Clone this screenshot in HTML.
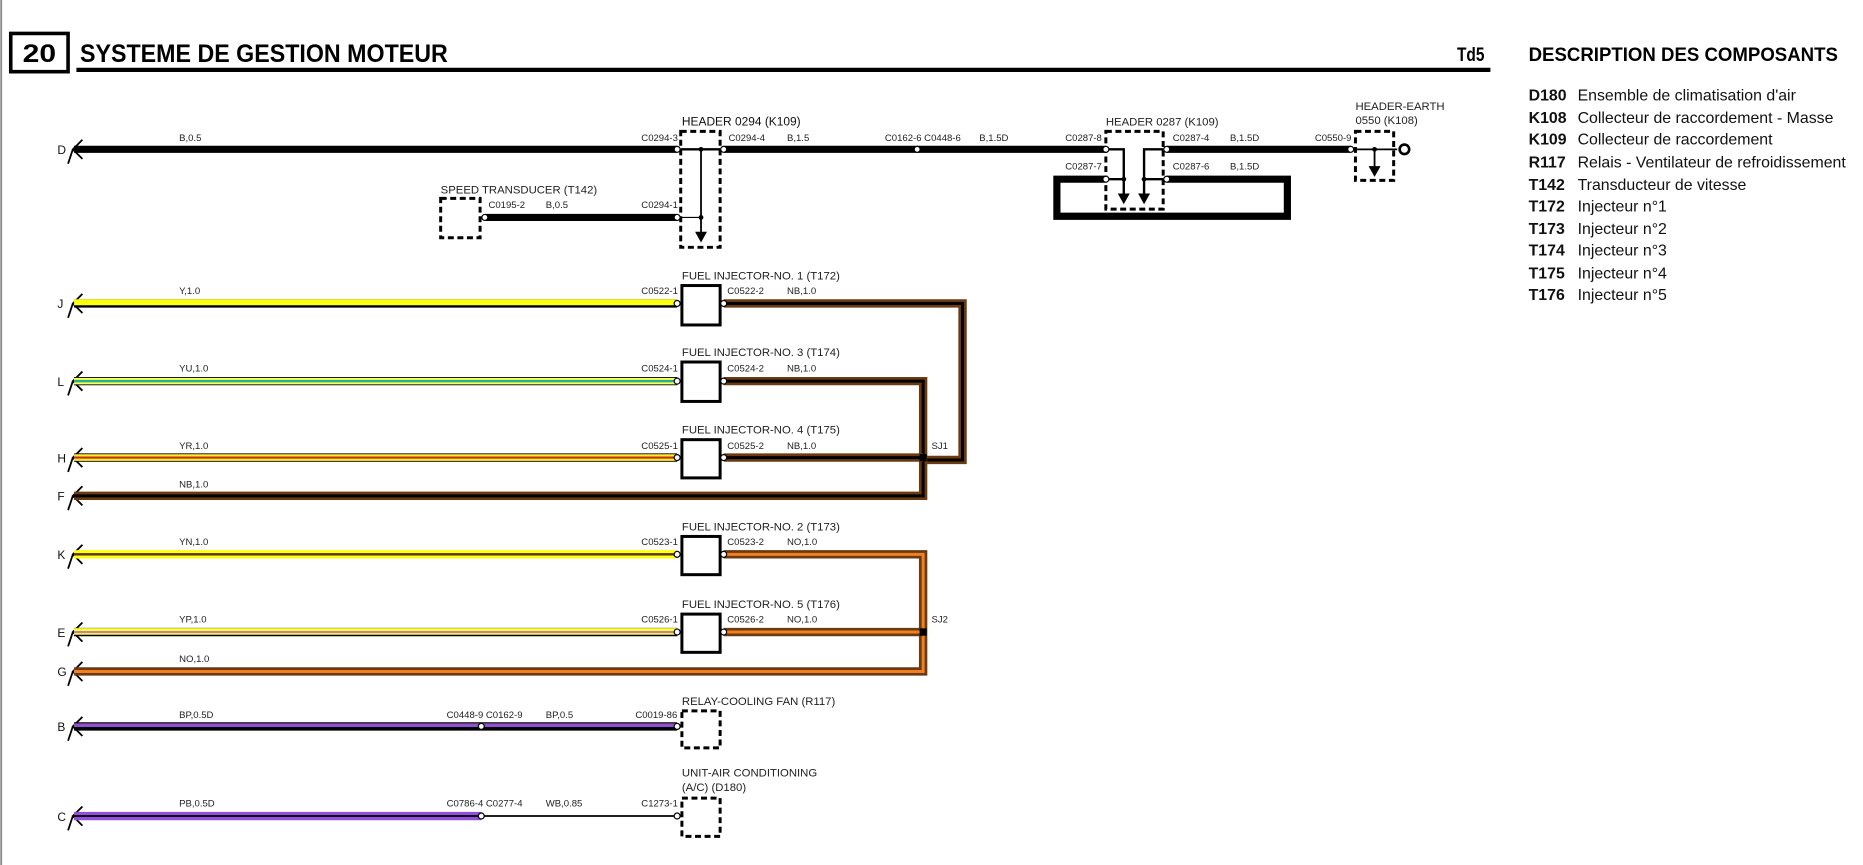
<!DOCTYPE html>
<html><head><meta charset="utf-8"><style>
html,body{margin:0;padding:0;background:#fff;width:1863px;height:865px;overflow:hidden}
svg{display:block}
text{font-family:"Liberation Sans",sans-serif}
.s{font-size:8px;fill:#222}
.m{font-size:10px;fill:#111}
.lg{font-size:13.3px;fill:#111}
.b{font-weight:bold}
</style></head><body>
<svg width="1863" height="865" viewBox="0 0 1560 724" preserveAspectRatio="none" xmlns="http://www.w3.org/2000/svg">
<line x1="1" y1="0" x2="1" y2="724" stroke="#888" stroke-width="1.5"/>
<rect x="9" y="28" width="48" height="32" fill="none" stroke="#000" stroke-width="3"/>
<text x="33" y="52" text-anchor="middle" class="b" font-size="21" textLength="28" lengthAdjust="spacingAndGlyphs">20</text>
<text x="67" y="52" class="b" font-size="21" textLength="308" lengthAdjust="spacingAndGlyphs">SYSTEME DE GESTION MOTEUR</text>
<line x1="64" y1="58.5" x2="1248" y2="58.5" stroke="#000" stroke-width="3.5"/>
<text x="1220" y="51" class="b" font-size="16" textLength="23" lengthAdjust="spacingAndGlyphs">Td5</text>
<text x="1280" y="51" class="b" font-size="16" textLength="259" lengthAdjust="spacingAndGlyphs">DESCRIPTION DES COMPOSANTS</text>
<g class="lg">
<text x="1280" y="84"><tspan class="b">D180</tspan><tspan x="1321">Ensemble de climatisation d'air</tspan></text>
<text x="1280" y="103"><tspan class="b">K108</tspan><tspan x="1321">Collecteur de raccordement - Masse</tspan></text>
<text x="1280" y="121"><tspan class="b">K109</tspan><tspan x="1321">Collecteur de raccordement</tspan></text>
<text x="1280" y="140"><tspan class="b">R117</tspan><tspan x="1321">Relais - Ventilateur de refroidissement</tspan></text>
<text x="1280" y="159"><tspan class="b">T142</tspan><tspan x="1321">Transducteur de vitesse</tspan></text>
<text x="1280" y="177"><tspan class="b">T172</tspan><tspan x="1321">Injecteur n°1</tspan></text>
<text x="1280" y="196"><tspan class="b">T173</tspan><tspan x="1321">Injecteur n°2</tspan></text>
<text x="1280" y="214"><tspan class="b">T174</tspan><tspan x="1321">Injecteur n°3</tspan></text>
<text x="1280" y="233"><tspan class="b">T175</tspan><tspan x="1321">Injecteur n°4</tspan></text>
<text x="1280" y="251"><tspan class="b">T176</tspan><tspan x="1321">Injecteur n°5</tspan></text>
</g>

<g fill="none" stroke="#000" stroke-width="1.5">
<path d="M69 117 L61 125 L69 133 M61 125 L57 137"/>
<path d="M69 246 L61 254 L69 262 M61 254 L57 266"/>
<path d="M69 311 L61 319 L69 327 M61 319 L57 331"/>
<path d="M69 375 L61 383 L69 391 M61 383 L57 395"/>
<path d="M69 407 L61 415 L69 423 M61 415 L57 427"/>
<path d="M69 456 L61 464 L69 472 M61 464 L57 476"/>
<path d="M69 521 L61 529 L69 537 M61 529 L57 541"/>
<path d="M69 554 L61 562 L69 570 M61 562 L57 574"/>
<path d="M69 600 L61 608 L69 616 M61 608 L57 620"/>
<path d="M69 675 L61 683 L69 691 M61 683 L57 695"/>
</g>
<g class="m">
<text x="48" y="129">D</text><text x="48" y="258">J</text><text x="48" y="323">L</text>
<text x="48" y="387">H</text><text x="48" y="419">F</text><text x="48" y="468">K</text>
<text x="48" y="533">E</text><text x="48" y="566">G</text><text x="48" y="612">B</text>
<text x="48" y="687">C</text>
</g>

<g stroke="#000" fill="none">
<line x1="62" y1="125" x2="567" y2="125" stroke-width="6"/>
<line x1="606" y1="125" x2="926" y2="125" stroke-width="6"/>
<line x1="977" y1="125" x2="1131" y2="125" stroke-width="6"/>
<line x1="406" y1="182" x2="567" y2="182" stroke-width="6"/>
<rect x="570" y="110" width="33" height="97" stroke-width="2.5" stroke-dasharray="5,3"/>
<line x1="570" y1="125" x2="603" y2="125" stroke-width="2"/>
<line x1="570" y1="182" x2="587" y2="182" stroke-width="1"/>
<line x1="587" y1="125" x2="587" y2="195" stroke-width="1.5"/>
<rect x="369" y="166" width="33" height="33" stroke-width="2.5" stroke-dasharray="5,3"/>
<rect x="926" y="110" width="48" height="65" stroke-width="2.5" stroke-dasharray="5,3"/>
<path d="M926 125 H941 V163 M974 125 H958 V163 M926 150 H941 M974 150 H958" stroke-width="2"/>
<path d="M926 150 H885 V181 H1078 V150 H977" stroke-width="6"/>
<rect x="1135" y="110" width="32" height="41" stroke-width="2.5" stroke-dasharray="5,3"/>
<path d="M1135 125 H1170 M1151 125 V140" stroke-width="1.5"/>
<circle cx="1176" cy="125" r="4" stroke-width="2.2" fill="#fff"/>
</g>
<g fill="#000">
<circle cx="587" cy="125" r="2"/><circle cx="587" cy="182" r="2"/>
<path d="M582 194 L592 194 L587 203 Z"/>
<circle cx="941" cy="150" r="2"/><circle cx="958" cy="150" r="2"/>
<path d="M936 162 L946 162 L941 171 Z"/><path d="M953 162 L963 162 L958 171 Z"/>
<circle cx="1151" cy="125" r="2"/><path d="M1146 139 L1156 139 L1151 148 Z"/>
</g>
<g class="s">
<text x="150" y="118">B,0.5</text>
<text x="537" y="118">C0294-3</text>
<text x="571" y="105" class="m" font-size="9.5">HEADER 0294 (K109)</text>
<text x="610" y="118">C0294-4</text><text x="659" y="118">B,1.5</text>
<text x="741" y="118">C0162-6 C0448-6</text><text x="820" y="118">B,1.5D</text>
<text x="926" y="105" font-size="9.5">HEADER 0287 (K109)</text>
<text x="892" y="118">C0287-8</text><text x="892" y="142">C0287-7</text>
<text x="982" y="118">C0287-4</text><text x="1030" y="118">B,1.5D</text>
<text x="982" y="142">C0287-6</text><text x="1030" y="142">B,1.5D</text>
<text x="1101" y="118">C0550-9</text>
<text x="1135" y="92" font-size="9.5">HEADER-EARTH</text>
<text x="1135" y="104" font-size="9.5">0550 (K108)</text>
<text x="369" y="162" font-size="9.5">SPEED TRANSDUCER (T142)</text>
<text x="409" y="174">C0195-2</text><text x="457" y="174">B,0.5</text>
<text x="537" y="174">C0294-1</text>
</g>

<g fill="none">
<path d="M606 254 H806 V385 H772" stroke="#6b3a10" stroke-width="7"/>
<path d="M606 254 H806 V385 H772" stroke="#000" stroke-width="2.5"/>
<path d="M606 319 H773 V415 H62" stroke="#6b3a10" stroke-width="7"/>
<path d="M606 319 H773 V415 H62" stroke="#000" stroke-width="2.5"/>
<path d="M606 383 H773" stroke="#6b3a10" stroke-width="7"/>
<path d="M606 383 H773" stroke="#000" stroke-width="2.5"/>
<path d="M606 464 H773 V562 H62" stroke="#6b3a10" stroke-width="7"/>
<path d="M606 464 H773 V562 H62" stroke="#f08020" stroke-width="2.5"/>
<path d="M606 529 H773" stroke="#6b3a10" stroke-width="7"/>
<path d="M606 529 H773" stroke="#f08020" stroke-width="2.5"/>
</g>
<rect x="770" y="380" width="6" height="6" fill="#000"/>
<rect x="770" y="526" width="6" height="6" fill="#000"/>
<text x="780" y="376" class="s" font-size="9">SJ1</text>
<text x="780" y="521" class="s" font-size="9">SJ2</text>

<g fill="none">
<line x1="62" y1="254" x2="567" y2="254" stroke="#000" stroke-width="7"/>
<line x1="62" y1="253" x2="567" y2="253" stroke="#ffff10" stroke-width="5"/>
<line x1="62" y1="319" x2="567" y2="319" stroke="#000" stroke-width="7"/>
<line x1="62" y1="319" x2="567" y2="319" stroke="#ffff50" stroke-width="5.5"/>
<line x1="62" y1="319" x2="567" y2="319" stroke="#20b0a0" stroke-width="2"/>
<line x1="62" y1="383" x2="567" y2="383" stroke="#000" stroke-width="7"/>
<line x1="62" y1="383" x2="567" y2="383" stroke="#ffee30" stroke-width="5.5"/>
<line x1="62" y1="383" x2="567" y2="383" stroke="#c03010" stroke-width="1.8"/>
<line x1="62" y1="464" x2="567" y2="464" stroke="#ffff10" stroke-width="7"/>
<line x1="62" y1="464" x2="567" y2="464" stroke="#5a3008" stroke-width="2"/>
<line x1="62" y1="529" x2="567" y2="529" stroke="#000" stroke-width="7"/>
<line x1="62" y1="528.5" x2="567" y2="528.5" stroke="#ffff30" stroke-width="5.5"/>
<line x1="62" y1="529" x2="567" y2="529" stroke="#c080c0" stroke-width="1.8"/>
<line x1="62" y1="608" x2="567" y2="608" stroke="#000" stroke-width="7"/>
<line x1="62" y1="607" x2="567" y2="607" stroke="#9050d0" stroke-width="3"/>
<line x1="62" y1="683" x2="403" y2="683" stroke="#9050d8" stroke-width="7"/>
<line x1="62" y1="683" x2="403" y2="683" stroke="#000" stroke-width="1.5"/>
<line x1="403" y1="683" x2="567" y2="683" stroke="#000" stroke-width="1.5"/>
</g>

<g fill="#fff" stroke="#000" stroke-width="2.5">
<rect x="571" y="239" width="32" height="33"/>
<rect x="571" y="303" width="32" height="33"/>
<rect x="571" y="368" width="32" height="32"/>
<rect x="571" y="449" width="32" height="32"/>
<rect x="571" y="514" width="32" height="32"/>
</g>
<g fill="none" stroke="#000" stroke-width="2.5" stroke-dasharray="5,3">
<rect x="571" y="595" width="32" height="31"/>
<rect x="571" y="668" width="32" height="32"/>
</g>
<g fill="#fff" stroke="#000" stroke-width="1">
<circle cx="567" cy="125" r="2.5"/><circle cx="606" cy="125" r="2.5"/><circle cx="768" cy="125" r="2.5"/>
<circle cx="926" cy="125" r="2.5"/><circle cx="977" cy="125" r="2.5"/><circle cx="926" cy="150" r="2.5"/><circle cx="977" cy="150" r="2.5"/>
<circle cx="1131" cy="125" r="2.5"/><circle cx="567" cy="182" r="2.5"/><circle cx="406" cy="182" r="2.5"/>
<circle cx="567" cy="254" r="2.5"/><circle cx="606" cy="254" r="2.5"/>
<circle cx="567" cy="319" r="2.5"/><circle cx="606" cy="319" r="2.5"/>
<circle cx="567" cy="383" r="2.5"/><circle cx="606" cy="383" r="2.5"/>
<circle cx="567" cy="464" r="2.5"/><circle cx="606" cy="464" r="2.5"/>
<circle cx="567" cy="529" r="2.5"/><circle cx="606" cy="529" r="2.5"/>
<circle cx="567" cy="608" r="2.5"/><circle cx="403" cy="608" r="2.5"/>
<circle cx="567" cy="683" r="2.5"/><circle cx="403" cy="683" r="2.5"/>
</g>
<g class="s">
<text x="150" y="246">Y,1.0</text><text x="537" y="246">C0522-1</text><text x="609" y="246">C0522-2</text><text x="659" y="246">NB,1.0</text>
<text x="571" y="234" font-size="9.5">FUEL INJECTOR-NO. 1 (T172)</text>
<text x="150" y="311">YU,1.0</text><text x="537" y="311">C0524-1</text><text x="609" y="311">C0524-2</text><text x="659" y="311">NB,1.0</text>
<text x="571" y="298" font-size="9.5">FUEL INJECTOR-NO. 3 (T174)</text>
<text x="150" y="376">YR,1.0</text><text x="537" y="376">C0525-1</text><text x="609" y="376">C0525-2</text><text x="659" y="376">NB,1.0</text>
<text x="571" y="363" font-size="9.5">FUEL INJECTOR-NO. 4 (T175)</text>
<text x="150" y="408">NB,1.0</text>
<text x="150" y="456">YN,1.0</text><text x="537" y="456">C0523-1</text><text x="609" y="456">C0523-2</text><text x="659" y="456">NO,1.0</text>
<text x="571" y="444" font-size="9.5">FUEL INJECTOR-NO. 2 (T173)</text>
<text x="150" y="521">YP,1.0</text><text x="537" y="521">C0526-1</text><text x="609" y="521">C0526-2</text><text x="659" y="521">NO,1.0</text>
<text x="571" y="509" font-size="9.5">FUEL INJECTOR-NO. 5 (T176)</text>
<text x="150" y="554">NO,1.0</text>
<text x="150" y="601">BP,0.5D</text><text x="374" y="601">C0448-9 C0162-9</text><text x="457" y="601">BP,0.5</text><text x="532" y="601">C0019-86</text>
<text x="571" y="590" font-size="9.5">RELAY-COOLING FAN (R117)</text>
<text x="150" y="675">PB,0.5D</text><text x="374" y="675">C0786-4 C0277-4</text><text x="457" y="675">WB,0.85</text><text x="537" y="675">C1273-1</text>
<text x="571" y="650" font-size="9.5">UNIT-AIR CONDITIONING</text>
<text x="571" y="662" font-size="9.5">(A/C) (D180)</text>
</g>
</svg>
</body></html>
